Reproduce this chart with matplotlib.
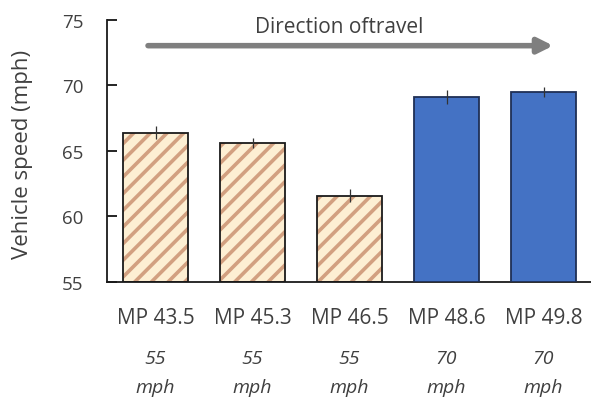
import matplotlib
matplotlib.use("Agg")
import matplotlib.pyplot as plt

# Mean vehicle speed at each milepost, with posted speed limits
sites = ["MP 43.5", "MP 45.3", "MP 46.5", "MP 48.6", "MP 49.8"]
limits = ["55", "55", "55", "70", "70"]
speeds = [66.4, 65.6, 61.6, 69.1, 69.5]
errors = [0.5, 0.4, 0.5, 0.55, 0.4]

plt.rcParams["font.family"] = ["Open Sans", "DejaVu Sans"]
plt.rcParams["hatch.linewidth"] = 2.6

text_color = "#404040"
hatch_face = "#fdefd3"
hatch_line = "#d2a080"
blue = "#4472c4"

fig = plt.figure(figsize=(5.91, 4.02), dpi=100)
ax = fig.add_axes([107 / 591, 1 - 283 / 402, (592 - 107) / 591, (283 - 21) / 402])

x = list(range(len(sites)))
for xi, spd, err, lim in zip(x, speeds, errors, limits):
    if lim == "55":
        ax.bar(xi, spd - 55, bottom=55, width=0.67, color=hatch_face,
               edgecolor=hatch_line, hatch="//", linewidth=0, zorder=2)
        ax.bar(xi, spd - 55, bottom=55, width=0.67, fill=False,
               edgecolor="#1a1a1a", linewidth=1.3, zorder=3)
    else:
        ax.bar(xi, spd - 55, bottom=55, width=0.67, color=blue,
               edgecolor="#1f2f55", linewidth=1.3, zorder=3)
    ax.errorbar(xi, spd, yerr=err, fmt="none", ecolor="#333333",
                elinewidth=0.9, capsize=0, zorder=4)

ax.set_xlim(-0.5, 4.5)
ax.set_ylim(55, 75)
ax.set_yticks([55, 60, 65, 70, 75])
ax.tick_params(axis="y", direction="in", length=7, width=1.2,
               labelsize=13.5, labelcolor=text_color, pad=17)
ax.set_xticks(x)
ax.set_xticklabels(sites, fontsize=15, color=text_color)
ax.tick_params(axis="x", length=0, pad=18)

for side in ["top", "right"]:
    ax.spines[side].set_visible(False)
for side in ["left", "bottom"]:
    ax.spines[side].set_linewidth(1.3)
    ax.spines[side].set_color("#1a1a1a")

ax.set_ylabel("Vehicle speed (mph)", fontsize=16, color=text_color)
ax.yaxis.set_label_coords(-0.153, 0.49)

# Posted speed limit under each site label
trans = ax.get_xaxis_transform()
for xi, lim in zip(x, limits):
    ax.text(xi, -0.29, lim, transform=trans, ha="center", va="center",
            fontsize=14, style="italic", color=text_color)
    ax.text(xi, -0.402, "mph", transform=trans, ha="center", va="center",
            fontsize=14, style="italic", color=text_color)

# Direction of travel arrow
ax.annotate("", xy=(4.10, 73.04), xytext=(-0.077, 73.04),
            arrowprops=dict(arrowstyle="-|>,head_length=0.9,head_width=0.45",
                            color="#7f7f7f", lw=4.0, shrinkA=0, shrinkB=0),
            annotation_clip=False)
ax.text(1.89, 74.47, "Direction oftravel", ha="center", va="center",
        fontsize=15, color=text_color)

fig.savefig("out.png", dpi=100)
